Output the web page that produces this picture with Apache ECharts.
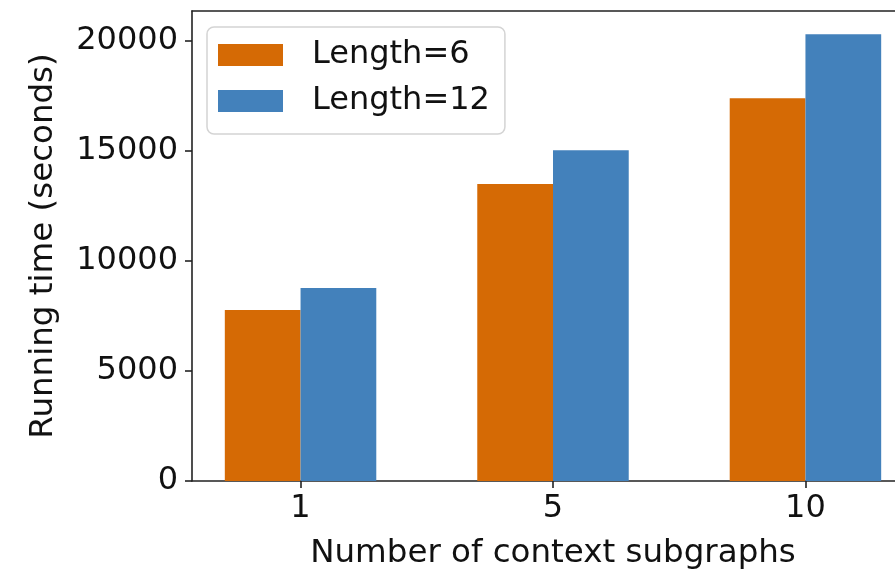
<!DOCTYPE html>
<html>
<head>
<meta charset="utf-8">
<script src="https://cdn.jsdelivr.net/npm/echarts@6/dist/echarts.min.js"></script>
<style>
  html, body { margin: 0; padding: 0; background: #fff; }
  #chart { width: 895px; height: 573px; }
</style>
</head>
<body>
<div id="chart"></div>
<script>
const categories = ['1', '5', '10'];
const seriesNames = ['Length=6', 'Length=12'];
const length6 = [7770, 13500, 17400];
const length12 = [8770, 15030, 20300];
const yTicks = [0, 5000, 10000, 15000, 20000];

const FONT = 'DejaVu Sans';
const TXT = '#111';
const FS = 32;
const catPos = categories.map((c, i) => i);
const X_MIN = -0.43, X_MAX = 2.43;

const chart = echarts.init(document.getElementById('chart'), null, { renderer: 'canvas' });
chart.setOption({
  animation: false,
  backgroundColor: '#fff',
  grid: { left: 192, top: 11, right: -19, bottom: 92, containLabel: false, outerBoundsMode: 'none' },
  legend: {
    orient: 'vertical',
    left: 207, top: 27,
    data: seriesNames,
    icon: 'rect',
    itemWidth: 65, itemHeight: 22, itemGap: 14,
    padding: [12, 15, 17, 11],
    borderColor: '#d4d4d4', borderWidth: 1.5, borderRadius: 7,
    backgroundColor: 'rgba(255,255,255,0.8)',
    textStyle: { fontFamily: FONT, fontSize: FS, color: TXT, padding: [0, 0, 0, 24] }
  },
  xAxis: [{
    type: 'value', min: X_MIN, max: X_MAX,
    name: 'Number of context subgraphs', nameLocation: 'middle', nameGap: 56,
    nameTextStyle: { fontFamily: FONT, fontSize: 32.5, color: TXT },
    axisLine: { show: true, onZero: false, lineStyle: { color: '#222', width: 1.6 } },
    axisTick: { show: true, length: 7, customValues: catPos, lineStyle: { color: '#222', width: 1.6 } },
    axisLabel: { customValues: catPos, margin: 12, fontFamily: FONT, fontSize: FS, color: TXT,
      formatter: v => categories[Math.round(v)] },
    splitLine: { show: false }
  }, {
    type: 'value', min: X_MIN, max: X_MAX, position: 'top',
    axisLine: { show: true, onZero: false, lineStyle: { color: '#222', width: 1.6 } },
    axisTick: { show: false }, axisLabel: { show: false }, splitLine: { show: false }
  }],
  yAxis: {
    type: 'value', min: 0, max: 21360,
    name: 'Running time (seconds)', nameLocation: 'middle', nameGap: 132,
    nameTextStyle: { fontFamily: FONT, fontSize: 32.5, color: TXT },
    axisLine: { show: true, onZero: false, lineStyle: { color: '#222', width: 1.6 } },
    axisTick: { show: true, length: 7, customValues: yTicks, lineStyle: { color: '#222', width: 1.6 } },
    axisLabel: { customValues: yTicks, margin: 14, fontFamily: FONT, fontSize: FS, color: TXT,
      formatter: v => String(v) },
    splitLine: { show: false }
  },
  series: [{
    name: seriesNames[0], type: 'bar', xAxisIndex: 0,
    data: length6.map((v, i) => [catPos[i], v]),
    barWidth: '30%', barGap: '0%',
    itemStyle: { color: '#d56a05' }
  }, {
    name: seriesNames[1], type: 'bar', xAxisIndex: 0,
    data: length12.map((v, i) => [catPos[i], v]),
    barWidth: '30%', barGap: '0%',
    itemStyle: { color: '#4381bb' }
  }]
});
</script>
</body>
</html>
